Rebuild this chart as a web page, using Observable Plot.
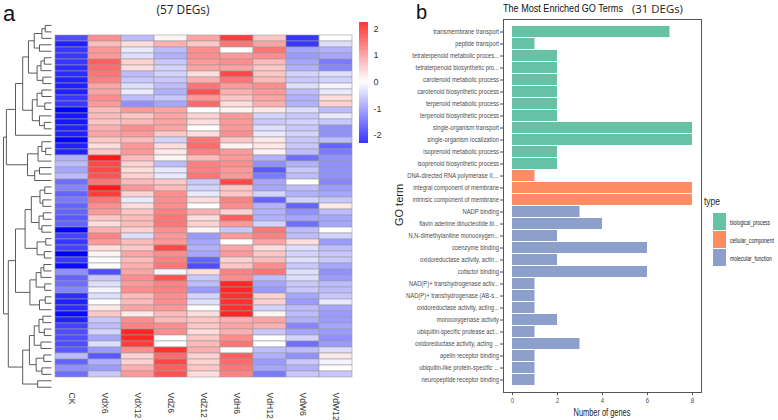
<!DOCTYPE html>
<html><head><meta charset="utf-8">
<script src="https://cdn.jsdelivr.net/npm/d3@7"></script>
<script src="https://cdn.jsdelivr.net/npm/@observablehq/plot@0.6"></script>
<style>
body{margin:0;background:#fff;}
#root{position:relative;width:778px;height:420px;overflow:hidden;background:#fff;}
#root > svg, #root > div{position:absolute;}
</style></head><body><div id="root"></div>
<script>
// ---------- DATA ----------
const samples = ["CK","VdX6","VdX12","VdZ6","VdZ12","VdH6","VdH12","VdW6","VdW12"];
// z-scores, one row per DEG (top to bottom), columns in sample order
const expr = [
[-1.6,1.0,-0.6,0.1,0.8,1.7,0.5,-1.8,0.0],
[-2.0,0.6,0.3,0.7,0.5,1.2,0.8,-1.8,-0.3],
[-1.8,0.9,-0.2,-0.6,1.0,0.0,1.2,-0.8,-0.7],
[-1.8,0.9,-0.3,-0.7,1.0,0.9,1.0,-0.9,-0.8],
[-1.8,1.4,0.4,-0.5,0.9,1.0,0.6,-0.8,-1.2],
[-1.9,1.3,0.3,-0.4,0.8,0.8,0.5,-0.7,-1.1],
[-1.9,1.2,-0.6,-0.4,0.3,1.6,0.5,-0.4,-0.3],
[-2.0,1.1,-0.5,-0.5,0.7,1.2,0.6,-0.5,-0.4],
[-2.0,0.8,-0.3,-0.6,1.2,0.9,1.0,-0.3,-0.1],
[-2.0,0.8,-0.2,-0.7,1.5,0.7,0.9,-0.6,-0.2],
[-1.8,1.0,-0.6,-0.5,0.9,0.5,0.8,-0.7,0.3],
[-1.8,0.9,-1.0,-0.8,1.3,0.3,0.7,-0.7,0.4],
[-2.3,0.6,0.9,0.8,0.0,0.1,0.2,-0.3,-0.6],
[-2.1,0.6,0.5,0.8,0.4,0.9,-0.4,-0.5,-0.2],
[-2.1,0.5,0.6,0.8,0.3,0.9,-0.5,-0.4,-0.5],
[-2.0,0.7,1.0,0.8,0.0,0.9,-0.3,-0.5,-1.0],
[-2.0,0.8,0.9,0.5,0.3,1.0,-0.2,-0.4,-1.0],
[-2.3,0.5,0.6,-0.4,1.2,0.5,0.2,-0.5,-0.6],
[-2.0,0.3,0.9,0.3,1.3,0.1,0.2,-0.5,-1.4],
[-2.0,0.5,0.9,0.2,1.1,0.9,0.1,-0.6,-1.2],
[-0.7,2.0,0.6,0.1,0.6,0.9,-0.7,-1.3,-1.0],
[-0.6,1.6,0.4,-0.6,1.1,1.0,-1.0,-0.7,-1.0],
[-0.8,1.6,0.3,-0.2,1.1,0.9,-1.5,-0.5,-1.0],
[-0.6,1.5,0.4,-0.2,1.2,0.9,-1.2,-0.6,-1.0],
[-1.3,1.2,0.6,0.5,-0.5,1.6,-0.8,0.0,-1.1],
[-1.1,2.0,0.9,0.6,-0.4,0.5,-0.8,-0.6,-0.9],
[-1.4,1.7,0.4,1.0,-0.2,0.5,-0.4,-0.7,-0.8],
[-1.2,1.2,-0.2,1.0,0.3,1.1,-1.4,-0.4,-0.5],
[-1.4,1.0,0.3,1.0,0.0,1.0,-0.7,-1.4,0.2],
[-1.4,0.9,0.5,1.1,0.7,0.4,-0.7,-1.0,-0.6],
[-1.5,0.5,0.6,1.2,0.3,1.4,-0.7,-0.8,-0.8],
[-1.4,0.3,0.6,1.2,0.4,0.9,-0.4,-1.3,-0.8],
[-2.4,0.7,0.4,1.0,0.1,-0.5,1.2,-0.6,0.0],
[-1.7,1.1,-0.3,0.9,-0.9,0.9,1.1,-0.6,-0.4],
[-1.8,0.9,0.6,0.9,-0.8,0.0,0.8,0.3,-0.9],
[-1.7,0.3,0.5,1.6,-0.7,0.8,0.3,-0.3,-0.6],
[-2.3,0.1,0.8,1.0,-0.8,0.9,0.5,-0.4,-0.5],
[-1.8,0.0,0.6,1.1,-1.4,0.4,0.6,-0.3,-0.5],
[-2.2,0.0,0.7,1.2,-1.6,0.5,1.0,-0.5,-0.8],
[-1.0,-1.6,0.8,-0.1,0.3,1.1,1.2,-0.3,-1.0],
[-1.4,-0.5,1.0,1.5,-0.5,1.0,-0.6,-0.3,-0.9],
[-1.3,-0.3,0.9,1.1,-0.6,1.9,-0.8,-0.5,-0.6],
[-1.1,-0.1,1.0,1.1,-0.9,1.9,-0.9,-0.5,-0.6],
[-1.9,-0.3,0.6,1.0,-0.4,1.8,0.4,-0.8,-0.5],
[-2.0,0.0,0.6,1.0,-0.3,1.8,0.4,-0.9,-0.2],
[-1.9,0.2,0.8,0.9,0.0,1.8,-0.4,-0.6,-0.8],
[-2.2,0.5,0.2,0.6,0.3,1.9,0.1,-0.6,-0.9],
[-2.0,-0.5,1.0,0.6,0.5,0.7,0.8,-0.7,-0.9],
[-1.7,-0.6,1.1,1.0,0.5,0.8,0.7,-1.1,-0.8],
[-1.6,-0.4,1.9,1.0,0.3,0.7,-0.5,-0.8,-0.9],
[-1.6,-0.8,1.9,0.0,0.5,1.0,0.0,-0.4,-1.0],
[-1.6,-0.3,1.7,0.0,0.6,1.2,0.0,-1.3,-0.9],
[-1.5,-0.9,1.0,1.8,0.7,0.0,-0.6,-0.6,-0.3],
[-0.6,-1.5,0.4,1.3,0.4,1.4,-0.7,-1.0,0.2],
[-1.4,-0.7,0.4,1.6,0.4,1.3,-0.9,-0.5,-0.1],
[-1.0,-0.9,0.7,1.4,0.5,1.2,-0.8,-0.7,0.0],
[-1.3,-0.5,0.9,1.5,0.3,1.1,-1.2,-0.5,-0.5]
];
// row dendrogram: [mergeHeight, left, right]; leaves are row indices
const rowTree =
[10,
  [9.0,
    [6.0, [2.9,0,1],
      [4.6,
        [3.2,[2.0,2,3],[1.6,4,5]],
        [3.6,[2.2,6,7],[2.6,[1.5,8,9],[1.8,10,11]]]]],
    [7.5,
      [4.5,[2.5,12,[1.3,13,14]],[3.2,[1.4,15,16],[2.2,17,[1.6,18,19]]]],
      [5.5,[3.0,[1.5,20,21],[1.2,22,23]],
        [4.2,[2.6,[2.0,24,25],[1.7,26,27]],[2.4,[1.8,28,29],[1.4,30,31]]]]]],
  [9.4,
    [5.0,[3.5,32,[2.5,33,34]],[2.8,35,[2.0,[1.2,36,37],38]]],
    [7.5, 39,
      [6.0,
        [4.0,[2.5,[1.5,40,41],42],[3.0,[1.4,43,44],[2.0,45,46]]],
        [4.8,[3.0,[1.8,47,48],[2.2,49,[1.5,50,51]]],[3.6,[2.5,52,53],[2.0,54,[1.3,55,56]]]]]]]];
const colorbarTicks = [-2,-1,0,1,2];

const goTerms = [
"transmembrane transport","peptide transport","tetraterpenoid metabolic proces...",
"tetraterpenoid biosynthetic pro...","carotenoid metabolic process","carotenoid biosynthetic process",
"terpenoid metabolic process","terpenoid biosynthetic process","single-organism transport",
"single-organism localization","isoprenoid metabolic process","isoprenoid biosynthetic process",
"DNA-directed RNA polymerase II,...","integral component of membrane","intrinsic component of membrane",
"NADP binding","flavin adenine dinucleotide bi...","N,N-dimethylaniline monooxygen...",
"coenzyme binding","oxidoreductase activity, actin...","cofactor binding",
"NAD(P)+ transhydrogenase activ...","NAD(P)+ transhydrogenase (AB-s...","oxidoreductase activity, acting...",
"monooxygenase activity","ubiquitin-specific protease act...","oxidoreductase activity, acting ...",
"apelin receptor binding","ubiquitin-like protein-specific ...","neuropeptide receptor binding"];
const goCounts = [7,1,2,2,2,2,2,2,8,8,2,2,1,8,8,3,4,2,6,2,6,1,1,1,2,1,3,1,1,1];
const goTypes = [
"biological_process","biological_process","biological_process","biological_process","biological_process",
"biological_process","biological_process","biological_process","biological_process","biological_process",
"biological_process","biological_process",
"cellular_component","cellular_component","cellular_component",
"molecular_function","molecular_function","molecular_function","molecular_function","molecular_function",
"molecular_function","molecular_function","molecular_function","molecular_function","molecular_function",
"molecular_function","molecular_function","molecular_function","molecular_function","molecular_function"];
const typeNames = ["biological_process","cellular_component","molecular_function"];
const typeColors = ["#66C2A5","#FC8D62","#8DA0CB"];
const geneTicks = [0,2,4,6,8];

// ---------- BUILD ----------
const root = document.getElementById("root");
const SANS = '"Liberation Sans",Arial,sans-serif';
function place(el, left, top){ el.style.left = left+"px"; el.style.top = top+"px"; root.appendChild(el); }
// horizontally condense text (emulates a narrow face); only x is moved into the transform
function squeeze(svg, sx){
  svg.querySelectorAll("text").forEach(t=>{
    const xa = t.getAttribute("x");
    const x = xa == null ? 0 : parseFloat(xa);
    if (!isFinite(x)) return;
    const tr = t.getAttribute("transform")||"";
    t.removeAttribute("x");
    t.setAttribute("transform", `${tr} translate(${x},0) scale(${sx},1)`);
  });
}

const colorOpts = {type:"linear", domain:[-2.3,0,2.23], range:["#0000FF","#FFFFFF","#FF0000"], interpolate:"rgb"};
const rows = d3.range(expr.length);
const cells = expr.flatMap((r,i)=>r.map((v,j)=>({gene:i, sample:samples[j], v})));

const heat = Plot.plot({
  width: 390, height: 420,
  marginLeft: 52.7, marginRight: 35.7, marginTop: 21.7, marginBottom: 30,
  x: {domain: samples, padding: 0},
  y: {domain: rows, padding: 0, axis: null},
  color: colorOpts,
  style: {fontFamily: SANS, color: "#333", background: "transparent"},
  marks: [
    Plot.cell(cells, {x:"sample", y:"gene", fill:"v", stroke:"#9c9c9c", strokeWidth:0.6}),
    Plot.axisX({anchor:"bottom", tickSize:0, tickRotate:90, tickPadding:2, fontSize:8.6, label:null})
  ]
});
place(heat, 0, 0);

// dendrogram
const segs = [];
function lay(node){
  if (typeof node === "number") return {y: node + 0.5, h: 0};
  const [h,a,b] = node; const A = lay(a), B = lay(b);
  segs.push({x1:h,y1:A.y,x2:h,y2:B.y},{x1:A.h,y1:A.y,x2:h,y2:A.y},{x1:B.h,y1:B.y,x2:h,y2:B.y});
  return {y:(A.y+B.y)/2, h};
}
lay(rowTree);
const dend = Plot.plot({
  width: 53, height: 420, marginLeft: 3, marginRight: 2, marginTop: 21.7, marginBottom: 30,
  x: {domain:[0,10], reverse:true, axis:null},
  y: {domain:[0,expr.length], axis:null},
  style: {background:"transparent"},
  marks: [Plot.link(segs, {x1:"x1",y1:"y1",x2:"x2",y2:"y2", stroke:"#4a4a4a", strokeWidth:0.9})]
});
place(dend, 0, 0);

// colour key
const cbSteps = d3.range(-2.3, 2.23, 0.025);
const cbar = Plot.plot({
  width: 40, height: 150, marginLeft: 4, marginRight: 27, marginTop: 22, marginBottom: 7,
  x: {domain:[0,1], axis:null},
  y: {domain:[-2.3,2.23]},
  color: colorOpts,
  style: {fontFamily: SANS, color:"#333", background:"transparent"},
  marks: [
    Plot.rect(cbSteps, {x1:0, x2:1, y1:d=>d, y2:d=>Math.min(d+0.026,2.23), fill:d=>d+0.0125}),
    Plot.axisY({anchor:"right", ticks:colorbarTicks, tickFormat:d=>String(d), tickSize:0, tickPadding:5, fontSize:9, label:null})
  ]
});
place(cbar, 355, 0);

// GO bar chart
const bars = goTerms.map((t,i)=>({term:t, count:goCounts[i], type:goTypes[i]}));
const bar = Plot.plot({
  width: 388, height: 420, marginLeft: 113, marginRight: 77, marginTop: 19, marginBottom: 28,
  x: {domain:[-0.4,8.4]},
  y: {domain: goTerms, paddingInner: 0.1, paddingOuter: 0.15},
  color: {domain: typeNames, range: typeColors},
  style: {fontFamily: SANS, color:"#4d4d4d", background:"transparent"},
  marks: [
    Plot.barX(bars, {x:"count", y:"term", fill:"type"}),
    Plot.frame({stroke:"#555", strokeWidth:1}),
    Plot.axisX({ticks: geneTicks, tickSize:3, tickPadding:2, fontSize:7.5, label:null}),
    Plot.axisY({tickSize:3, tickPadding:1.5, fontSize:7.3, label:null})
  ]
});
place(bar, 390, 0);
squeeze(bar, 0.8);

// overlay texts
const ns = "http://www.w3.org/2000/svg";
const ov = document.createElementNS(ns, "svg");
ov.setAttribute("width", 778); ov.setAttribute("height", 420);
place(ov, 0, 0);
function txt(s, x, y, size, opts={}){
  const t = document.createElementNS(ns, "text");
  t.textContent = s;
  t.setAttribute("font-size", size); t.setAttribute("font-family", opts.family || SANS);
  t.setAttribute("fill", opts.fill || "#222");
  if (opts.anchor) t.setAttribute("text-anchor", opts.anchor);
  ov.appendChild(t);
  let sx = opts.sx || 1;
  if (opts.width) sx = opts.width / t.getComputedTextLength();
  t.setAttribute("transform", `translate(${x},${y})` + (opts.rotate ? ` rotate(${opts.rotate})` : "") + ` scale(${sx},1)`);
}
txt("a", 3, 20.5, 22, {fill:"#111"});
txt("(57 DEGs)", 183, 14, 12, {family:'"Open Sans",sans-serif', anchor:"middle", width:53});
txt("b", 416, 18.5, 20, {fill:"#111"});
txt("The Most Enriched GO Terms", 503, 12, 11.5, {fill:"#111", width:120});
txt("(31 DEGs)", 632, 12.5, 11.5, {family:'"Open Sans",sans-serif', width:51});
txt("GO term", 403, 205, 11, {anchor:"middle", rotate:-90});
txt("Number of genes", 602, 416, 10.5, {anchor:"middle", width:57});
txt("type", 704, 205, 10, {sx:0.85});
const legendWidths = [40, 44, 42];
typeNames.forEach((n,i)=>{
  const r = document.createElementNS(ns, "rect");
  r.setAttribute("x", 713); r.setAttribute("y", 213 + i*18); r.setAttribute("width", 13); r.setAttribute("height", 17);
  r.setAttribute("fill", typeColors[i]); ov.appendChild(r);
  txt(n, 730, 224.5 + i*18, 7.5, {width: legendWidths[i]});
});
</script></body></html>
